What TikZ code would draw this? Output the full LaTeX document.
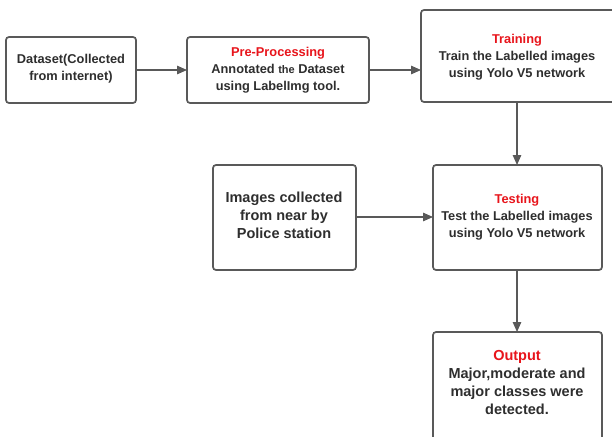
\documentclass[tikz,border=0pt]{standalone}
\usepackage{fontspec}
\setmainfont{Liberation Sans}
\usetikzlibrary{arrows.meta}
\definecolor{txt}{HTML}{2E2E2E}
\definecolor{edge}{HTML}{595959}
\definecolor{hd}{HTML}{E8141B}
\begin{document}
\begin{tikzpicture}[x=1pt,y=-1pt,
  box/.style={draw=edge,line width=1.7pt,rounded corners=3pt,fill=white},
  lbl/.style={align=center,text=txt,font=\bfseries\fontsize{12.8}{17}\selectfont,inner sep=0pt},
  biglbl/.style={align=center,text=txt,font=\bfseries\fontsize{14.5}{18}\selectfont,inner sep=0pt},
  conn/.style={draw=edge,line width=1.2pt,-{Triangle[length=10pt,width=8.5pt]}}]
\useasboundingbox (0,0) rectangle (612,436);
\draw[box] (6,37) rectangle (136,103);
\draw[box] (187,37) rectangle (369,103);
\draw[box] (421,10) rectangle (616,102);
\draw[box] (213,165) rectangle (356,270);
\draw[box] (433,165) rectangle (602,270);
\draw[box] (433,332) rectangle (602,442);
\node[lbl] (n1) at (71,69) {Dataset(Collected\\from internet)};
\node[lbl] (n2) at (278,70) {\textcolor{hd}{Pre-Processing}\\Annotated {\fontsize{11}{17}\selectfont the} Dataset\\using LabelImg tool.};
\node[lbl] (n3) at (517,57) {\textcolor{hd}{Training}\\Train the Labelled images\\using Yolo V5 network};
\node[biglbl] (n4) at (284,215) {Images collected\\from near by\\Police station};
\node[lbl] (n5) at (517,217) {\textcolor{hd}{Testing}\\Test the Labelled images\\using Yolo V5 network};
\node[biglbl] (n6) at (517,383) {\textcolor{hd}{Output}\\Major,moderate and\\major classes were\\detected.};
\coordinate (a1s) at (136,70); \coordinate (a1e) at (187,70);
\coordinate (a2s) at (369,70); \coordinate (a2e) at (421,70);
\coordinate (a3s) at (517,102); \coordinate (a3e) at (517,165);
\coordinate (a4s) at (356,217); \coordinate (a4e) at (433,217);
\coordinate (a5s) at (517,270); \coordinate (a5e) at (517,332);
\draw[conn] (a1s) -- (a1e);
\draw[conn] (a2s) -- (a2e);
\draw[conn] (a3s) -- (a3e);
\draw[conn] (a4s) -- (a4e);
\draw[conn] (a5s) -- (a5e);
\end{tikzpicture}
\end{document}
